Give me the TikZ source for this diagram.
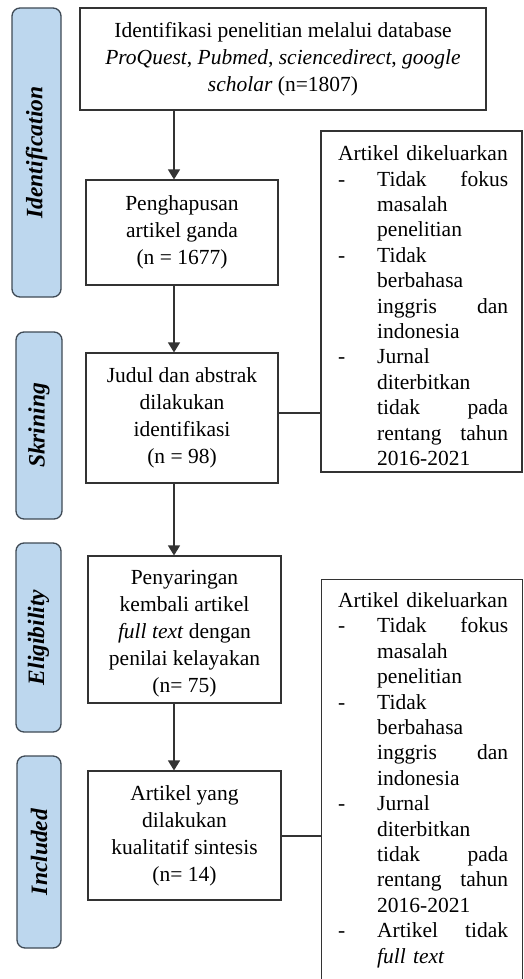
\documentclass[tikz,border=0pt]{standalone}
\usepackage{fontspec}
\setmainfont{Liberation Serif}
\usetikzlibrary{arrows.meta}
\definecolor{sideblue}{HTML}{BDD7EE}
\definecolor{sideline}{HTML}{3F4A55}
\definecolor{boxline}{HTML}{333333}
\newcommand{\ditem}[1]{\makebox[39pt][l]{-}\makebox[131pt][l]{#1}}
\newcommand{\citem}[1]{\hspace*{39pt}\makebox[131pt][l]{#1}}
\begin{document}
\begin{tikzpicture}[x=1pt,y=-1pt,
  sidebox/.style={draw=sideline, line width=1.3pt, fill=sideblue, rounded corners=8pt,
    rotate=90, inner sep=0pt, font=\fontsize{23.5}{28}\selectfont\bfseries\itshape},
  flowbox/.style={draw=boxline, line width=1.1pt, fill=white, inner sep=0pt, align=center,
    font=\fontsize{21.5}{27}\selectfont},
  flowtext/.style={inner sep=0pt, align=center, font=\fontsize{21.5}{27}\selectfont},
  exbox/.style={draw=boxline, line width=1.1pt, inner sep=0pt},
  extext/.style={inner sep=0pt, align=left, text width=170pt,
    font=\fontsize{21.5}{25.4}\selectfont},
  arr/.style={draw=boxline, line width=1.1pt, -{Triangle[length=10pt,width=12pt]}},
  conn/.style={draw=boxline, line width=1.1pt}
]
\useasboundingbox (0,0) rectangle (524,979);
\clip (0,0) rectangle (524,979);

% side labels
\node[sidebox, minimum width=289pt, minimum height=49pt] (sid) at (36.5,152.5) {Identification};
\node[sidebox, minimum width=187pt, minimum height=46pt] (sskr) at (39,425.5) {Skrining};
\node[sidebox, minimum width=189pt, minimum height=45pt] (selg) at (38.5,637.5) {Eligibility};
\node[sidebox, minimum width=192pt, minimum height=44pt] (sinc) at (39,852) {Included};

% main flow boxes
\node[flowbox, minimum width=406pt, minimum height=102pt] (b1) at (283,59)
  {Identifikasi penelitian melalui database\\
   \textit{ProQuest}, \textit{Pubmed}, \textit{sciencedirect}, \textit{google}\\
   \textit{scholar} (n=1807)};
\node[flowbox, minimum width=192pt, minimum height=105pt] (b2) at (182,232.5)
  {Penghapusan\\artikel ganda\\(n = 1677)};
\node[flowbox, minimum width=192pt, minimum height=130pt] (b3) at (182,418)
  {Judul dan abstrak\\dilakukan\\identifikasi\\(n = 98)};
\node[flowbox, minimum width=193pt, minimum height=147pt] (b4) at (184.5,629.5) {};
\node[flowtext, anchor=north] (b4t) at (184.5,570.5)
  {Penyaringan\\kembali artikel\\\textit{full text} dengan\\penilai kelayakan\\(n= 75)};
\node[flowbox, minimum width=193pt, minimum height=129pt] (b5) at (184.5,835.5)
  {Artikel yang\\dilakukan\\kualitatif sintesis\\(n= 14)};

% excluded boxes
\node[exbox, minimum width=201pt, minimum height=341pt] (r1) at (421.5,301.5) {};
\node[extext, anchor=north west] (r1t) at (338,145.5)
  {Artikel dikeluarkan\\
   \ditem{Tidak\hfill fokus}\\
   \citem{masalah}\\
   \citem{penelitian}\\
   \ditem{Tidak}\\
   \citem{berbahasa}\\
   \citem{inggris\hfill dan}\\
   \citem{indonesia}\\
   \ditem{Jurnal}\\
   \citem{diterbitkan}\\
   \citem{tidak\hfill pada}\\
   \citem{rentang\hfill tahun}\\
   \citem{2016-2021}};
\node[exbox, minimum width=201pt, minimum height=430pt, anchor=north west] (r2) at (321,579) {};
\node[extext, anchor=north west] (r2t) at (338,592.3)
  {Artikel dikeluarkan\\
   \ditem{Tidak\hfill fokus}\\
   \citem{masalah}\\
   \citem{penelitian}\\
   \ditem{Tidak}\\
   \citem{berbahasa}\\
   \citem{inggris\hfill dan}\\
   \citem{indonesia}\\
   \ditem{Jurnal}\\
   \citem{diterbitkan}\\
   \citem{tidak\hfill pada}\\
   \citem{rentang\hfill tahun}\\
   \citem{2016-2021}\\
   \ditem{Artikel\hfill tidak}\\
   \citem{\textit{full text}}};

% connectors
\coordinate (ax) at (174,0);
\coordinate (cy1) at (0,413);
\coordinate (cy2) at (0,836);
\draw[arr] (b1.south -| ax) -- (b2.north -| ax);
\draw[arr] (b2.south -| ax) -- (b3.north -| ax);
\draw[arr] (b3.south -| ax) -- (b4.north -| ax);
\draw[arr] (b4.south -| ax) -- (b5.north -| ax);
\draw[conn] (b3.east |- cy1) -- (r1.west |- cy1);
\draw[conn] (b5.east |- cy2) -- (r2.west |- cy2);
\end{tikzpicture}
\end{document}
